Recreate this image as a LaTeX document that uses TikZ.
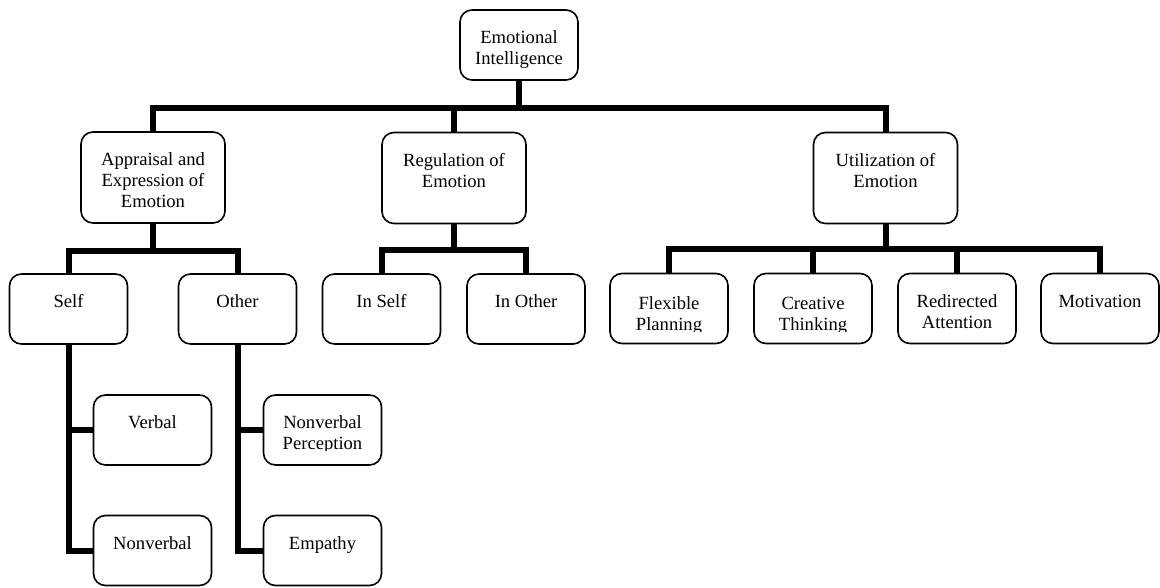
\documentclass[tikz,border=0pt]{standalone}
\usepackage{fontspec}
\setmainfont{Liberation Serif}
\begin{document}
\begin{tikzpicture}[x=1pt,y=-1pt,
  box/.style={draw, line width=1.6pt, rounded corners=12pt, inner sep=0pt, minimum width=118pt, minimum height=70pt},
  wide/.style={box, minimum width=144pt, minimum height=91pt},
  lbl/.style={font=\fontsize{18.6}{21}\selectfont, align=center, inner sep=0pt, anchor=base},
  bar/.style={line width=6pt, line join=miter, line cap=butt}]
\useasboundingbox (0,0) rectangle (1160,587);

% boxes
\node[box] (root) at (519,45) {};
\node[wide] (app) at (153,177.5) {};
\node[wide] (reg) at (454,178) {};
\node[wide] (util) at (885.5,178) {};
\node[box] (self) at (68.5,309) {};
\node[box] (other) at (237.5,309) {};
\node[box] (inself) at (381.5,309) {};
\node[box] (inother) at (526,309) {};
\node[box] (flex) at (669,308.5) {};
\node[box] (creat) at (813,308.5) {};
\node[box] (redir) at (957,308.5) {};
\node[box] (motiv) at (1100,308.5) {};
\node[box] (verbal) at (152.5,430) {};
\node[box] (nonverb) at (152.5,550.5) {};
\node[box] (nvp) at (322.5,430) {};
\node[box] (empathy) at (322.5,550.5) {};

% labels (base anchor = baseline of the last line)
\node[lbl] (rootT) at (519,64) {Emotional\\Intelligence};
\node[lbl] (appT) at (153,207) {Appraisal and\\Expression of\\Emotion};
\node[lbl] (regT) at (454,187) {Regulation of\\Emotion};
\node[lbl] (utilT) at (885.5,187) {Utilization of\\Emotion};
\node[lbl] (selfT) at (68.5,307) {Self};
\node[lbl] (otherT) at (237.5,307) {Other};
\node[lbl] (inselfT) at (381.5,307) {In Self};
\node[lbl] (inotherT) at (526,307) {In Other};
\begin{scope}
  \clip (600,270) rectangle (1160,331.5);
  \node[lbl] (flexT) at (669,330) {Flexible\\Planning};
  \node[lbl] (creatT) at (813,330) {Creative\\Thinking};
  \node[lbl] (redirT) at (957,328) {Redirected\\Attention};
\end{scope}
\node[lbl] (motivT) at (1100,307) {Motivation};
\node[lbl] (verbalT) at (152.5,428) {Verbal};
\node[lbl] (nonverbT) at (152.5,549) {Nonverbal};
\begin{scope}
  \clip (260,390) rectangle (390,450.5);
  \node[lbl] (nvpT) at (322.5,449) {Nonverbal\\Perception};
\end{scope}
\node[lbl] (empathyT) at (322.5,549) {Empathy};

% connectors
\draw[bar] (root.south) -- ++(0,27) -| (app.north);
\draw[bar] (root.south) -- ++(0,27) -| (reg.north);
\draw[bar] (root.south) -- ++(0,27) -| (util.north);
\draw[bar] (app.south) -- ++(0,27) -| (self.north);
\draw[bar] (app.south) -- ++(0,27) -| (other.north);
\draw[bar] (reg.south) -- ++(0,26) -| (inself.north);
\draw[bar] (reg.south) -- ++(0,26) -| (inother.north);
\draw[bar] (util.south) -- ++(0,25) -| (flex.north);
\draw[bar] (util.south) -- ++(0,25) -| (creat.north);
\draw[bar] (util.south) -- ++(0,25) -| (redir.north);
\draw[bar] (util.south) -- ++(0,25) -| (motiv.north);
\draw[bar] (self.south) |- (verbal.west);
\draw[bar] (self.south) |- (nonverb.west);
\draw[bar] (other.south) |- (nvp.west);
\draw[bar] (other.south) |- (empathy.west);
\end{tikzpicture}
\end{document}
